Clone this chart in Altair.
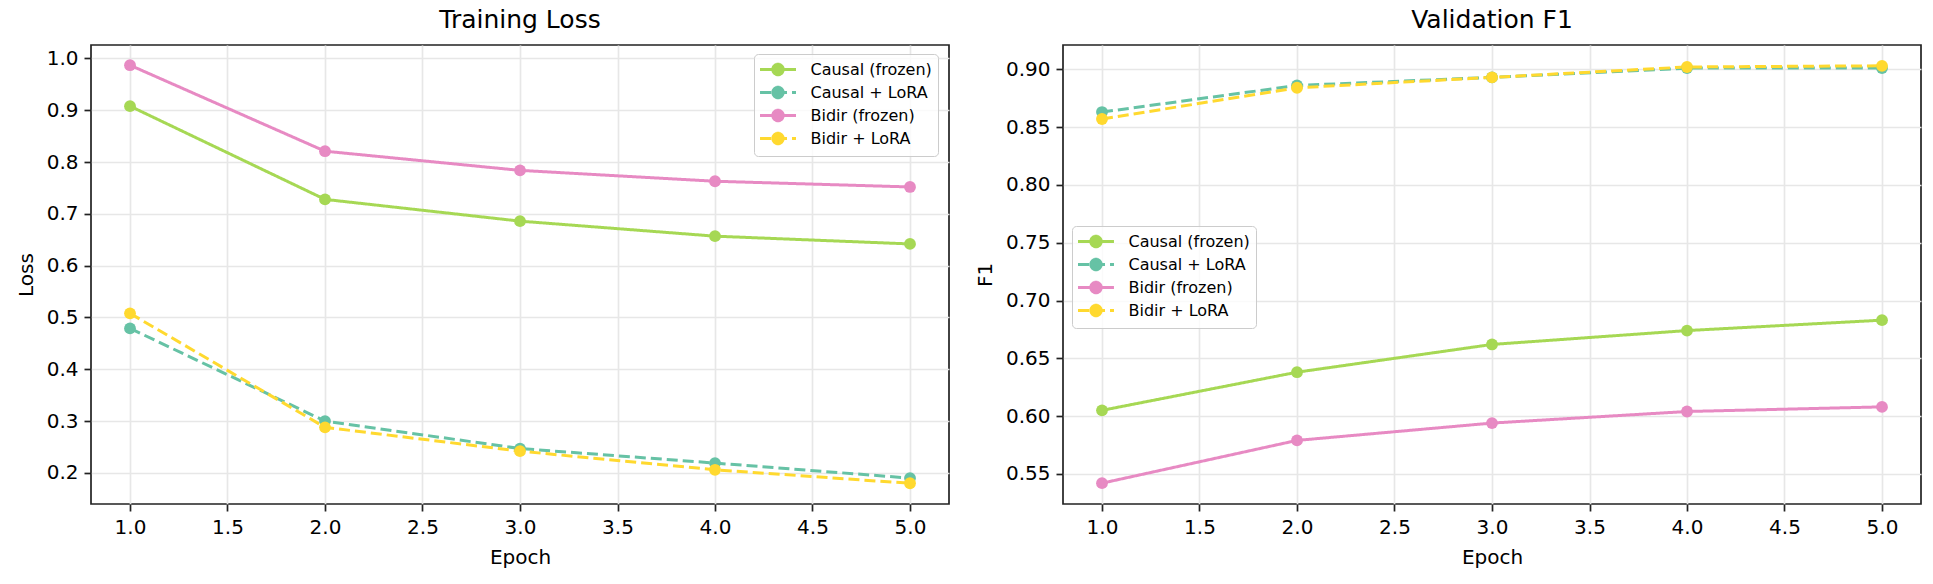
import altair as alt
import pandas as pd

epochs = [1, 2, 3, 4, 5]
series = ["Causal (frozen)", "Causal + LoRA", "Bidir (frozen)", "Bidir + LoRA"]
colors = ["#a6d854", "#66c2a5", "#e78ac3", "#ffd92f"]
dashes = [[1, 0], [11, 5], [1, 0], [11, 5]]

loss_causal_frozen = [0.908, 0.728, 0.686, 0.657, 0.642]
loss_causal_lora = [0.479, 0.300, 0.247, 0.219, 0.190]
loss_bidir_frozen = [0.987, 0.821, 0.784, 0.763, 0.752]
loss_bidir_lora = [0.508, 0.288, 0.242, 0.206, 0.180]

f1_causal_frozen = [0.605, 0.638, 0.662, 0.674, 0.683]
f1_causal_lora = [0.863, 0.886, 0.893, 0.901, 0.901]
f1_bidir_frozen = [0.542, 0.579, 0.594, 0.604, 0.608]
f1_bidir_lora = [0.857, 0.884, 0.893, 0.902, 0.903]

x_ticks = [1.0, 1.5, 2.0, 2.5, 3.0, 3.5, 4.0, 4.5, 5.0]
loss_ticks = [0.2, 0.3, 0.4, 0.5, 0.6, 0.7, 0.8, 0.9, 1.0]
f1_ticks = [0.55, 0.60, 0.65, 0.70, 0.75, 0.80, 0.85, 0.90]


def frame(vals_list):
    rows = []
    for name, vals in zip(series, vals_list):
        for e, v in zip(epochs, vals):
            rows.append({"Epoch": e, "Value": v, "Series": name})
    return pd.DataFrame(rows)


loss_df = frame([loss_causal_frozen, loss_causal_lora, loss_bidir_frozen, loss_bidir_lora])
f1_df = frame([f1_causal_frozen, f1_causal_lora, f1_bidir_frozen, f1_bidir_lora])

# legend symbol: a horizontal line with a filled circle (the circle is drawn as
# four pie slices so that a dash pattern never breaks its outline)
R = 0.67
L = 2.32
SYMBOL = (
    f"M-{L},0L{L},0"
    f"M{R},0A{R},{R},0,0,1,0,{R}L0,0Z"
    f"M0,{R}A{R},{R},0,0,1,-{R},0L0,0Z"
    f"M-{R},0A{R},{R},0,0,1,0,-{R}L0,0Z"
    f"M0,-{R}A{R},{R},0,0,1,{R},0L0,0Z"
)

PW, PH = 858, 459


def panel(df, title, ytitle, ydomain, yticks, yfmt, lx, ly):
    legend = alt.Legend(
        title=None, orient="none", legendX=lx, legendY=ly,
        symbolType=SYMBOL, symbolSize=240, symbolStrokeWidth=3,
        symbolOffset=8.5,
        symbolStrokeColor="black", symbolFillColor="black",
        labelFont="DejaVu Sans", labelFontSize=16, labelColor="black",
        labelOffset=23, rowPadding=0, padding=6,
        fillColor="rgba(255,255,255,0.8)", strokeColor="#cccccc",
        cornerRadius=4,
    )
    x = alt.X("Epoch:Q", title="Epoch",
              scale=alt.Scale(domain=[0.8, 5.2], nice=False, zero=False),
              axis=alt.Axis(values=x_ticks, format=".1f"))
    y = alt.Y("Value:Q", title=ytitle,
              scale=alt.Scale(domain=ydomain, nice=False, zero=False),
              axis=alt.Axis(values=yticks, format=yfmt))
    color = alt.Color("Series:N", sort=series,
                      scale=alt.Scale(domain=series, range=colors),
                      legend=legend)
    dash = alt.StrokeDash("Series:N", sort=series,
                          scale=alt.Scale(domain=series, range=dashes),
                          legend=legend)
    lines = alt.Chart(df).mark_line(strokeWidth=3).encode(
        x=x, y=y, color=color, strokeDash=dash, detail="Series:N")
    pts = alt.Chart(df).mark_circle(opacity=1).encode(
        x=x, y=y, color=color, size=alt.value(140))
    return alt.layer(lines, pts).properties(
        width=PW, height=PH,
        title=alt.Title(title, fontSize=25, fontWeight="normal",
                        font="DejaVu Sans", color="black", offset=12),
    )


left = panel(loss_df, "Training Loss", "Loss", [0.14, 1.026], loss_ticks, ".1f", 663, 9)
right = panel(f1_df, "Validation F1", "F1", [0.524, 0.921], f1_ticks, ".2f", 9, 181)

chart = alt.hconcat(left, right, spacing=24).resolve_scale(
    y="independent", color="independent", strokeDash="independent"
).resolve_legend(
    color="independent", strokeDash="independent"
).configure(
    padding={"left": 15, "top": 7, "right": 5, "bottom": 5},
    background="white",
).configure_view(
    stroke="#222222", strokeWidth=1.7,
).configure_axis(
    domain=False, grid=True, gridColor="#e7e7e7", gridWidth=1.7,
    ticks=True, tickColor="#222222", tickWidth=1.7, tickSize=7,
    labelFont="DejaVu Sans", labelFontSize=20, labelColor="black", labelPadding=6,
    titleFont="DejaVu Sans", titleFontSize=20, titleColor="black",
    titleFontWeight="normal", titlePadding=10, labelFlush=False,
    labelOverlap=False,
)

chart.save("out.html", embed_options={"renderer": "svg", "actions": False})
